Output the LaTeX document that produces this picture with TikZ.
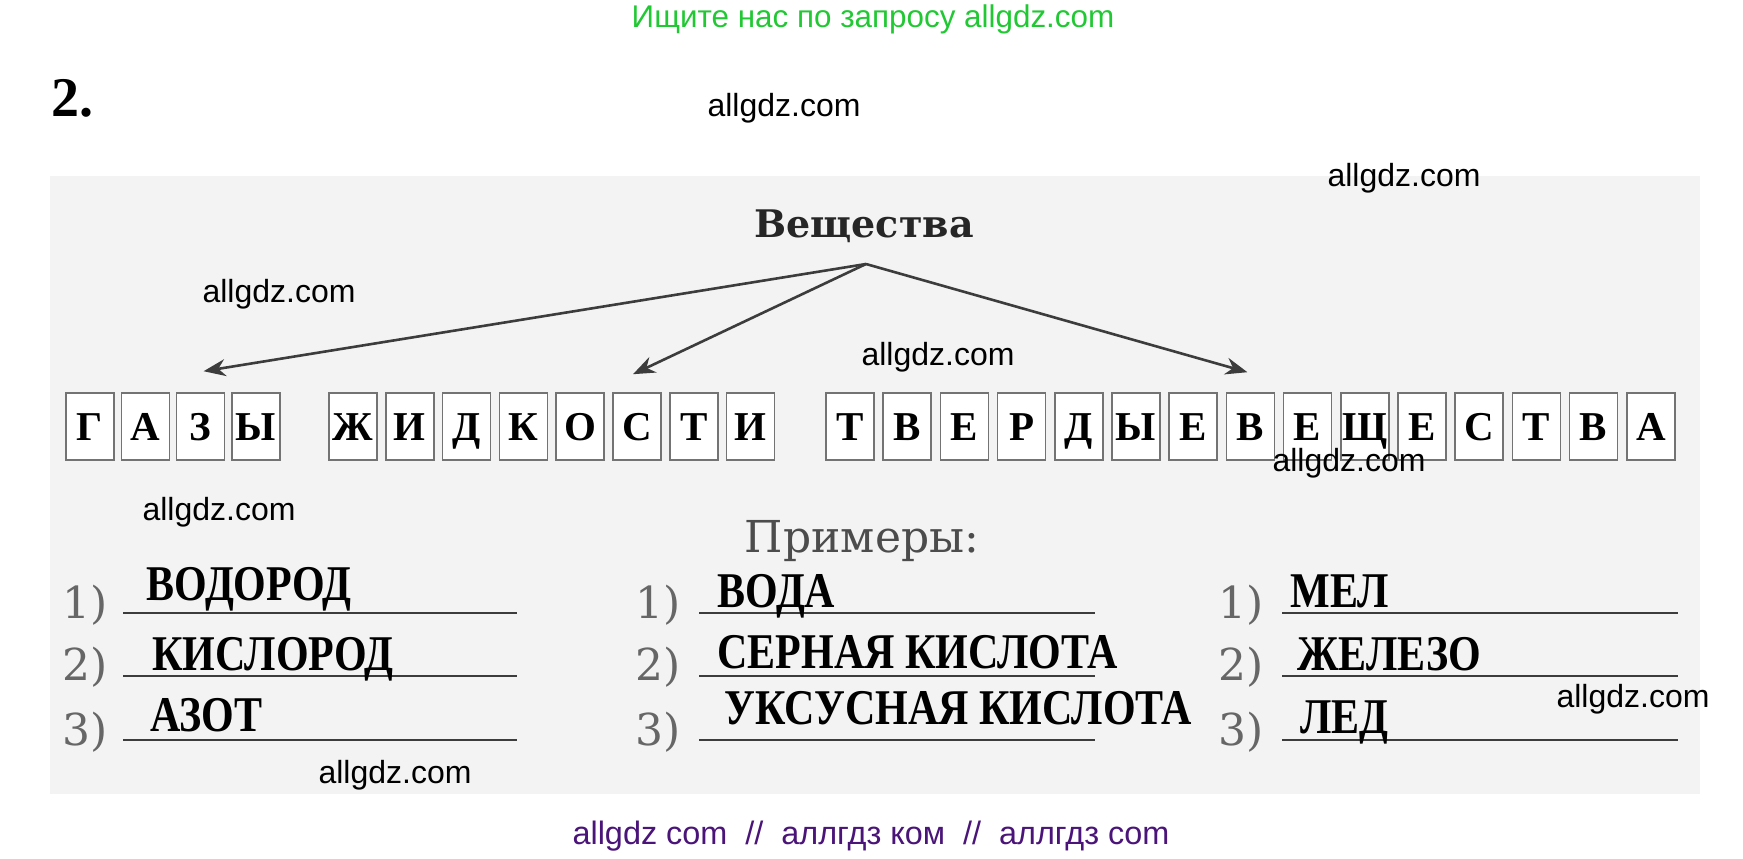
\documentclass[tikz,border=0pt]{standalone}
\usepackage{fontspec}
\setmainfont{Liberation Serif}
\newfontfamily\wmfont{Liberation Sans}
\newfontfamily\numfont{DejaVu Serif}
\usetikzlibrary{arrows.meta}
\definecolor{hdrgreen}{RGB}{34,200,52}
\definecolor{wmpurple}{RGB}{74,20,120}
\definecolor{inkgray}{RGB}{60,60,60}
\definecolor{pagegray}{RGB}{243,243,243}
\newcommand{\reponse}[1]{\scalebox{0.84}[1]{#1}}

\begin{document}
\begin{tikzpicture}[x=0.5pt,y=-0.5pt,
    letterbox/.style={draw=black!55,line width=0.8pt,fill=white,minimum width=24pt,minimum height=33.5pt,inner sep=0pt,text height=13.6pt,text depth=0pt,font=\fontsize{20.5}{20.5}\selectfont\bfseries},
    answer/.style={anchor=base west,inner sep=0pt,font=\fontsize{25}{25}\selectfont\bfseries},
    num/.style={inner sep=0pt,text=black!60,font=\numfont\fontsize{22}{22}\selectfont},
    wm/.style={inner sep=0pt,font=\wmfont\fontsize{16}{16}\selectfont},
    arr/.style={-{Stealth[length=11pt,width=8.5pt]},draw=inkgray,line width=1.3pt},
    ligne/.style={draw=inkgray,line width=1.2pt}]
    \useasboundingbox (0,0) rectangle (1743,858);
    % Fond de la page scannée
    \fill[pagegray] (50,176) rectangle (1700,794);

    \node[inner sep=0pt,font=\fontsize{28}{28}\selectfont\bfseries] (numero) at (72,98) {2.};
    \node[inner sep=0pt,text=hdrgreen,font=\wmfont\fontsize{15.7}{15.7}\selectfont] (entete) at (873,19) {Ищите нас по запросу allgdz.com};

    \node[inner sep=0pt,text=black!85,font=\numfont\fontsize{19}{19}\selectfont\bfseries] (veshch) at (864,226) {Вещества};
    \coordinate (sommet) at (866,264);

    \foreach \c [count=\i] in {Г,А,З,Ы}
        \node[letterbox] (g\i) at ({90+55.3*(\i-1)},426.5) {\c};
    \foreach \c [count=\i] in {Ж,И,Д,К,О,С,Т,И}
        \node[letterbox] (z\i) at ({353+56.8*(\i-1)},426.5) {\c};
    \foreach \c [count=\i] in {Т,В,Е,Р,Д,Ы,Е,В,Е,Щ,Е,С,Т,В,А}
        \node[letterbox] (t\i) at ({850+57.2*(\i-1)},426.5) {\c};

    \draw[arr] (sommet) -- ([xshift=1.5pt,yshift=10.5pt]g3.north);
    \draw[arr] (sommet) -- ([xshift=-2pt,yshift=9pt]z6.north);
    \draw[arr] (sommet) -- ([xshift=-1.5pt,yshift=10pt]t8.north);

    \node[inner sep=0pt,text=black!70,font=\numfont\fontsize{22}{22}\selectfont] (primery) at (862,541) {Примеры:};

    % Réponses
    \foreach \x/\n in {85/1,658/2,1241/3} {
        \node[num] (n\n a) at (\x,605) {1)};
        \node[num] (n\n b) at (\x,667) {2)};
        \node[num] (n\n c) at (\x,732) {3)};
    }
    \foreach \a/\b in {123/517,699/1095,1282/1678} {
        \draw[ligne] (\a,613) -- (\b,613);
        \draw[ligne] (\a,676) -- (\b,676);
        \draw[ligne] (\a,740) -- (\b,740);
    }
    \node[answer] (vodorod) at (146,600) {\reponse{ВОДОРОД}};
    \node[answer] (kislorod) at (152,670) {\reponse{КИСЛОРОД}};
    \node[answer] (azot) at (150,731) {\reponse{АЗОТ}};
    \node[answer] (voda) at (717,607) {\reponse{ВОДА}};
    \node[answer] (sernaya) at (717,668) {\reponse{СЕРНАЯ КИСЛОТА}};
    \node[answer] (uksusnaya) at (724,724) {\reponse{УКСУСНАЯ КИСЛОТА}};
    \node[answer] (mel) at (1290,607) {\reponse{МЕЛ}};
    \node[answer] (zhelezo) at (1297,670) {\reponse{ЖЕЛЕЗО}};
    \node[answer] (led) at (1300,733) {\reponse{ЛЕД}};

    % Filigranes
    \node[wm] (wm1) at (784,108) {allgdz.com};
    \node[wm] (wm2) at (1404,178) {allgdz.com};
    \node[wm] (wm3) at (279,294) {allgdz.com};
    \node[wm] (wm4) at (938,357) {allgdz.com};
    \node[wm] (wm5) at (1349,463) {allgdz.com};
    \node[wm] (wm6) at (219,512) {allgdz.com};
    \node[wm] (wm7) at (1633,699) {allgdz.com};
    \node[wm] (wm8) at (395,775) {allgdz.com};
    \node[inner sep=0pt,text=wmpurple,font=\wmfont\fontsize{16.2}{16.2}\selectfont] (pied) at (871,836) {allgdz com \ // \ аллгдз ком \ // \ аллгдз com};
\end{tikzpicture}
\end{document}
